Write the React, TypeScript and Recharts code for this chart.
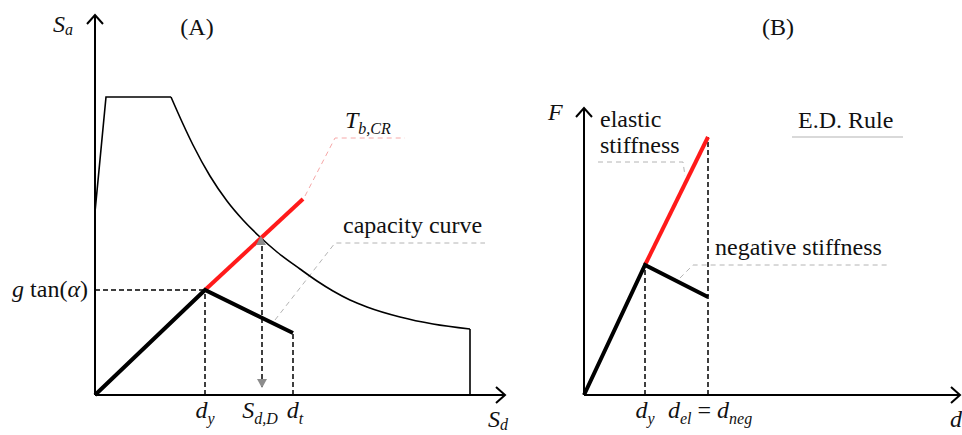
import React from "react";
import { LineChart, Line, XAxis, YAxis, ReferenceDot } from "recharts";

const SERIF = '"Liberation Serif", "Times New Roman", serif';
const RED = "#ff1a1a";
const LEADER = "#b4b4b4";
const LEADER_RED = "#f6a8a8";

// ---- (A) spectrum vs capacity (Sd, Sa) ----
const spectrumRise = [
  { x: 0, y: 18.3 },
  { x: 1.1, y: 29.8 },
  { x: 7.6, y: 29.8 },
];
const spectrumDecay = [
  { x: 7.6, y: 29.8 },
  { x: 8.8, y: 27.1 },
  { x: 9.8, y: 25.0 },
  { x: 11.5, y: 21.9 },
  { x: 13.2, y: 19.4 },
  { x: 14.8, y: 17.5 },
  { x: 16.5, y: 15.8 },
  { x: 18.2, y: 14.3 },
  { x: 20.5, y: 12.6 },
  { x: 22.2, y: 11.4 },
  { x: 23.8, y: 10.4 },
  { x: 25.5, y: 9.5 },
  { x: 27.2, y: 8.8 },
  { x: 30.5, y: 7.8 },
  { x: 33.8, y: 7.1 },
  { x: 37.5, y: 6.6 },
];
const spectrumCut = [
  { x: 37.5, y: 6.6 },
  { x: 37.5, y: 0 },
];
const capacityA = [
  { x: 0, y: 0 },
  { x: 11, y: 10.5 },
  { x: 19.8, y: 6.2 },
];
const elasticA = [
  { x: 11, y: 10.5 },
  { x: 20.8, y: 19.6 },
];
const yieldLevelA = [
  { x: 0, y: 10.5 },
  { x: 11, y: 10.5 },
];
const yieldDispA = [
  { x: 11, y: 0 },
  { x: 11, y: 10.5 },
];
const targetDispA = [
  { x: 19.8, y: 0 },
  { x: 19.8, y: 6.2 },
];
const demandDispA = [
  { x: 16.7, y: 0.8 },
  { x: 16.7, y: 15.4 },
];
const leaderTb = [
  { x: 21.0, y: 19.9 },
  { x: 24.0, y: 25.7 },
  { x: 31.0, y: 25.7 },
];
const leaderCapacity = [
  { x: 18.0, y: 7.5 },
  { x: 24.0, y: 15.2 },
  { x: 39.0, y: 15.2 },
];
const axisAx = [
  { x: 0, y: 0 },
  { x: 41, y: 0 },
];
const axisAy = [
  { x: 0, y: 0 },
  { x: 0, y: 38 },
];
const arrowAx = [
  { x: 40.1, y: 0.8 },
  { x: 41, y: 0 },
  { x: 40.1, y: -0.8 },
];
const arrowAy = [
  { x: -0.8, y: 37.1 },
  { x: 0, y: 38 },
  { x: 0.8, y: 37.1 },
];

// ---- (B) E.D. rule (d, F) ----
const elasticB = [
  { x: 6.1, y: 13.0 },
  { x: 12.4, y: 25.8 },
];
const backboneB = [
  { x: 0, y: 0 },
  { x: 6.1, y: 13.0 },
  { x: 12.4, y: 9.8 },
];
const yieldDispB = [
  { x: 6.1, y: 0 },
  { x: 6.1, y: 13.0 },
];
const elDispB = [
  { x: 12.4, y: 0 },
  { x: 12.4, y: 25.8 },
];
const leaderElastic = [
  { x: 1.4, y: 23.3 },
  { x: 9.9, y: 23.3 },
  { x: 10.1, y: 21.9 },
];
const leaderNegative = [
  { x: 9.6, y: 11.7 },
  { x: 10.9, y: 13.0 },
  { x: 30.6, y: 13.0 },
];
const ruleUnderline = [
  { x: 20.8, y: 25.8 },
  { x: 31.9, y: 25.8 },
];
const axisBx = [
  { x: 0, y: 0 },
  { x: 37.6, y: 0 },
];
const axisBy = [
  { x: 0, y: 0 },
  { x: 0, y: 28.7 },
];
const arrowBx = [
  { x: 36.7, y: 0.8 },
  { x: 37.6, y: 0 },
  { x: 36.7, y: -0.8 },
];
const arrowBy = [
  { x: -0.8, y: 27.8 },
  { x: 0, y: 28.7 },
  { x: 0.8, y: 27.8 },
];

type Pt = { x: number; y: number };
type Part = { t: string; i?: boolean; sub?: boolean };
type Tag = { x: number; y: number; parts: Part[]; anchor?: "start" | "middle" | "end"; drop?: number };

const it = (t: string): Part => ({ t, i: true });
const sub = (t: string): Part => ({ t, i: true, sub: true });
const rm = (t: string): Part => ({ t });

const tagsA: Tag[] = [
  { x: -4.2, y: 36.3, parts: [it("S"), sub("a")], drop: 3 },
  { x: 10.2, y: 36.0, parts: [rm("(A)")], anchor: "middle" },
  { x: -0.7, y: 9.8, parts: [it("g"), rm(" tan("), it("α"), rm(")")], anchor: "end" },
  { x: 25.0, y: 26.7, parts: [it("T"), sub("b,CR")] },
  { x: 24.8, y: 16.2, parts: [rm("capacity curve")] },
  { x: 11.0, y: -2.3, parts: [it("d"), sub("y")], anchor: "middle" },
  { x: 16.5, y: -2.3, parts: [it("S"), sub("d,D")], anchor: "middle" },
  { x: 20.0, y: -2.3, parts: [it("d"), sub("t")], anchor: "middle" },
  { x: 39.3, y: -3.2, parts: [it("S"), sub("d")], drop: 3 },
];

const tagsB: Tag[] = [
  { x: 19.4, y: 36.0, parts: [rm("(B)")], anchor: "middle" },
  { x: -3.6, y: 27.5, parts: [it("F")] },
  { x: 1.6, y: 26.8, parts: [rm("elastic")] },
  { x: 1.6, y: 24.2, parts: [rm("stiffness")] },
  { x: 21.4, y: 26.7, parts: [rm("E.D. Rule")] },
  { x: 13.1, y: 14.0, parts: [rm("negative stiffness")] },
  { x: 6.1, y: -2.3, parts: [it("d"), sub("y")], anchor: "middle" },
  { x: 8.4, y: -2.3, parts: [it("d"), sub("el"), rm(" = "), it("d"), sub("neg")] },
  { x: 36.6, y: -3.2, parts: [it("d")] },
];

function MathText({ cx, cy, parts, anchor = "start", drop = 6 }: { cx: number; cy: number; parts: Part[]; anchor?: string; drop?: number }) {
  let low = false;
  return (
    <text x={cx} y={cy} textAnchor={anchor} fontFamily={SERIF} fontSize={24} fill="#111">
      {parts.map((p, k) => {
        let dy = 0;
        if (p.sub && !low) dy = drop;
        if (!p.sub && low) dy = -drop;
        low = !!p.sub;
        return (
          <tspan key={k} dy={dy} fontStyle={p.i ? "italic" : "normal"} fontSize={p.sub ? 16 : 24}>
            {p.t}
          </tspan>
        );
      })}
    </text>
  );
}

function seg(
  key: string,
  data: Pt[],
  opts: { color?: string; width?: number; dash?: string; curve?: "linear" | "monotone" } = {}
) {
  return (
    <Line
      key={key}
      data={data}
      dataKey="y"
      type={opts.curve ?? "linear"}
      stroke={opts.color ?? "#000"}
      strokeWidth={opts.width ?? 1.5}
      strokeDasharray={opts.dash}
      strokeLinejoin="miter"
      dot={false}
      activeDot={false}
      isAnimationActive={false}
    />
  );
}

function tagDots(tags: Tag[]) {
  return tags.map((t, k) => (
    <ReferenceDot
      key={`tag${k}`}
      x={t.x}
      y={t.y}
      r={0}
      ifOverflow="visible"
      shape={(p: any) => <MathText cx={p.cx} cy={p.cy} parts={t.parts} anchor={t.anchor} drop={t.drop} />}
    />
  ));
}

function triangle(cx: number, cy: number, up: boolean) {
  const h = up ? -9 : 9;
  return <path d={`M${cx - 5},${cy} L${cx + 5},${cy} L${cx},${cy + h} Z`} fill="#8c8c8c" />;
}

const DASH = "5 3";
const LEAD_DASH = "5 4";

export default function App() {
  return (
    <div style={{ position: "relative", width: 962, height: 435, background: "#fff" }}>
      <style>{"body{margin:0}"}</style>
      <div style={{ position: "absolute", left: 0, top: 0 }}>
        <LineChart width={540} height={435} margin={{ top: 0, right: 0, bottom: 0, left: 0 }}>
          <XAxis type="number" dataKey="x" domain={[-9.5, 44.5]} allowDataOverflow hide />
          <YAxis type="number" domain={[-4, 39.5]} allowDataOverflow hide />
          {seg("leadTb", leaderTb, { color: LEADER_RED, width: 1, dash: LEAD_DASH })}
          {seg("leadCap", leaderCapacity, { color: LEADER, width: 1, dash: LEAD_DASH })}
          {seg("gy", yieldLevelA, { dash: DASH })}
          {seg("dy", yieldDispA, { dash: DASH })}
          {seg("dt", targetDispA, { dash: DASH })}
          {seg("dd", demandDispA, { dash: DASH })}
          {seg("rise", spectrumRise, { width: 1.6 })}
          {seg("decay", spectrumDecay, { width: 1.6, curve: "monotone" })}
          {seg("cut", spectrumCut, { width: 1.6 })}
          {seg("ax", axisAx, { width: 2 })}
          {seg("ay", axisAy, { width: 2 })}
          {seg("arx", arrowAx, { width: 2 })}
          {seg("ary", arrowAy, { width: 2 })}
          {seg("elastic", elasticA, { color: RED, width: 4 })}
          {seg("capacity", capacityA, { width: 4 })}
          <ReferenceDot x={16.6} y={15.0} r={0} ifOverflow="visible" shape={(p: any) => triangle(p.cx, p.cy, true)} />
          <ReferenceDot x={16.7} y={1.6} r={0} ifOverflow="visible" shape={(p: any) => triangle(p.cx, p.cy, false)} />
          {tagDots(tagsA)}
        </LineChart>
      </div>
      <div style={{ position: "absolute", left: 540, top: 0 }}>
        <LineChart width={422} height={435} margin={{ top: 0, right: 0, bottom: 0, left: 0 }}>
          <XAxis type="number" dataKey="x" domain={[-4.4, 37.8]} allowDataOverflow hide />
          <YAxis type="number" domain={[-4, 39.5]} allowDataOverflow hide />
          {seg("leadEl", leaderElastic, { color: LEADER, width: 1, dash: LEAD_DASH })}
          {seg("leadNeg", leaderNegative, { color: LEADER, width: 1, dash: LEAD_DASH })}
          {seg("rule", ruleUnderline, { color: LEADER, width: 1.2 })}
          {seg("dy", yieldDispB, { dash: DASH })}
          {seg("del", elDispB, { dash: DASH })}
          {seg("ax", axisBx, { width: 2 })}
          {seg("ay", axisBy, { width: 2 })}
          {seg("arx", arrowBx, { width: 2 })}
          {seg("ary", arrowBy, { width: 2 })}
          {seg("elastic", elasticB, { color: RED, width: 4 })}
          {seg("backbone", backboneB, { width: 4 })}
          {tagDots(tagsB)}
        </LineChart>
      </div>
    </div>
  );
}
